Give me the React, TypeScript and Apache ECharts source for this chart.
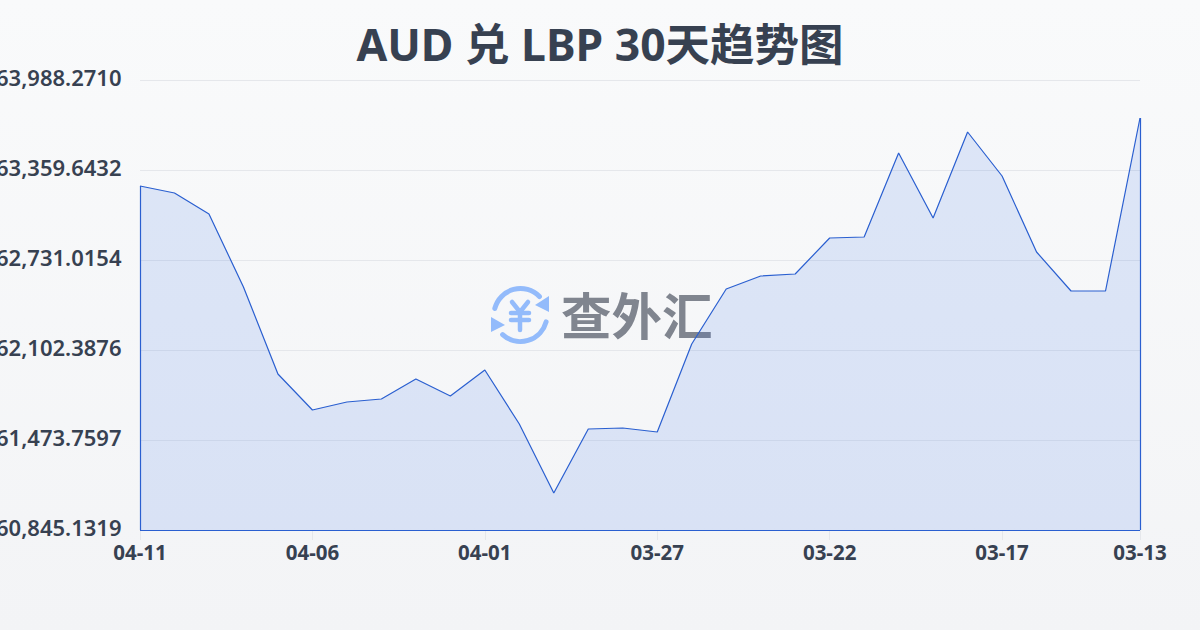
import React, { useEffect, useRef } from "react";
import * as echarts from "echarts";

const titleText = "AUD 兑 LBP 30天趋势图";
const watermarkText = "查外汇";
const categories = [
  "04-11", "04-10", "04-09", "04-08", "04-07", "04-06", "04-05", "04-04", "04-03", "04-02",
  "04-01", "03-31", "03-30", "03-29", "03-28", "03-27", "03-26", "03-25", "03-24", "03-23",
  "03-22", "03-21", "03-20", "03-19", "03-18", "03-17", "03-16", "03-15", "03-14", "03-13",
];
const rates = [
  63247.88, 63198.99, 63052.31, 62542.42, 61934.75, 61683.3, 61739.18, 61760.13, 61899.83, 61781.09,
  61962.69, 61585.51, 61103.57, 61550.59, 61557.57, 61529.64, 62144.29, 62528.45, 62619.26, 62633.23,
  62884.68, 62891.66, 63478.38, 63024.37, 63625.06, 63317.73, 62786.89, 62514.49, 62514.49, 63722.85,
];
const yTicks = [60845.1319, 61473.7597, 62102.3876, 62731.0154, 63359.6432, 63988.271];
const yMin = yTicks[0];
const yMax = yTicks[yTicks.length - 1];
const lastIndex = categories.length - 1;
const showTick = (i: number) => i % 5 === 0 || i === lastIndex;
const FONT = '"Noto Sans", "Noto Sans CJK SC", sans-serif';
const ICON = "#93bbfb";
const LINE = "#2a5fd0";
const AREA = "#2563eb";

export default function App() {
  const ref = useRef<HTMLDivElement>(null);
  useEffect(() => {
    document.body.style.margin = "0";
    const chart = echarts.init(ref.current!, null, { renderer: "svg", width: 1200, height: 630 });
    const stroke = { stroke: ICON, lineWidth: 5, lineCap: "round", fill: "none" };
    const yenStroke = { stroke: ICON, lineWidth: 4.5, lineCap: "round", lineJoin: "round", fill: "none" };
    chart.setOption({
      animation: false,
      backgroundColor: {
        type: "linear", x: 0, y: 0, x2: 0, y2: 1,
        colorStops: [{ offset: 0, color: "#f9fafb" }, { offset: 1, color: "#f3f4f6" }],
      },
      title: {
        text: titleText, left: "center", top: 16,
        textStyle: { fontFamily: FONT, fontSize: 44.5, fontWeight: 700, color: "#374151" },
      },
      grid: { left: 140, right: 60, top: 80, bottom: 100, outerBoundsMode: "none" },
      xAxis: {
        type: "category", data: categories, boundaryGap: false,
        axisLine: { show: false },
        axisTick: { show: true, interval: (i: number) => showTick(i), length: 10, lineStyle: { color: "#e5e7eb" } },
        axisLabel: {
          interval: (i: number) => showTick(i), margin: 12, hideOverlap: false,
          fontFamily: FONT, fontSize: 20.5, fontWeight: 700, color: "#374151",
        },
      },
      yAxis: {
        type: "value", min: yMin, max: yMax,
        axisLine: { show: false },
        axisTick: { show: false, customValues: yTicks },
        splitLine: { show: true, lineStyle: { color: "#e5e7eb", width: 1 } },
        axisLabel: {
          customValues: yTicks, margin: 18.5, showMinLabel: true, showMaxLabel: true,
          verticalAlign: "bottom", lineHeight: 6,
          fontFamily: FONT, fontSize: 22, fontWeight: 600, color: "#374151",
          formatter: (v: number) => v.toLocaleString("en-US", { minimumFractionDigits: 4, maximumFractionDigits: 4 }),
        },
      },
      graphic: [
        { type: "arc", z: 0, shape: { cx: 520.5, cy: 315, r: 26.5, startAngle: 3.39, endAngle: 5.51 }, style: stroke },
        { type: "arc", z: 0, shape: { cx: 520.5, cy: 315, r: 26.5, startAngle: 0.26, endAngle: 2.31 }, style: stroke },
        { type: "polygon", z: 0, shape: { points: [[549, 296], [549, 312], [535, 305]] }, style: { fill: ICON } },
        { type: "polygon", z: 0, shape: { points: [[491, 317], [491, 332], [505, 325]] }, style: { fill: ICON } },
        { type: "polyline", z: 0, shape: { points: [[512, 302], [520, 312], [528, 302]] }, style: yenStroke },
        { type: "line", z: 0, shape: { x1: 511, y1: 313, x2: 529, y2: 313 }, style: yenStroke },
        { type: "line", z: 0, shape: { x1: 511, y1: 320, x2: 529, y2: 320 }, style: yenStroke },
        { type: "line", z: 0, shape: { x1: 520, y1: 312, x2: 520, y2: 330 }, style: yenStroke },
        {
          type: "text", z: 0, x: 561, y: 315,
          style: {
            text: watermarkText, fontFamily: FONT, fontSize: 50.5, fontWeight: 700,
            fill: "#80858f", textVerticalAlign: "middle", textBaseline: "middle",
          },
        },
      ],
      series: [
        {
          type: "line", data: rates, symbol: "none", smooth: false, z: 3,
          lineStyle: { color: LINE, width: 1.2 },
          areaStyle: { color: AREA, opacity: 0.13 },
          markLine: {
            silent: true, symbol: "none", label: { show: false },
            lineStyle: { color: LINE, width: 1.2, type: "solid" },
            data: [
              [{ coord: [0, yMin] }, { coord: [0, rates[0]] }],
              [{ coord: [0, yMin] }, { coord: [lastIndex, yMin] }],
              [{ coord: [lastIndex, yMin] }, { coord: [lastIndex, rates[lastIndex]] }],
            ],
          },
        },
      ],
    });
    return () => chart.dispose();
  }, []);
  return <div ref={ref} style={{ position: "absolute", left: 0, top: 0, width: 1200, height: 630 }} />;
}
